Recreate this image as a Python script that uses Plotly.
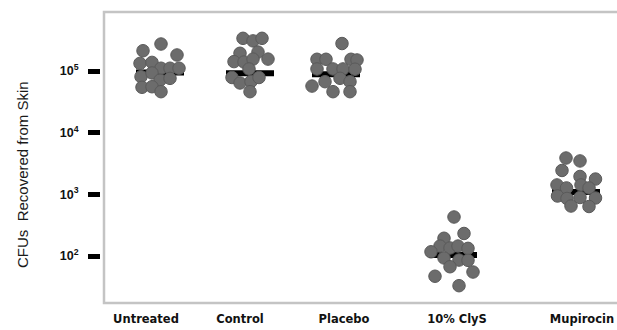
import plotly.graph_objects as go

# ---- data ----
categories = ["Untreated", "Control", "Placebo", "10% ClyS", "Mupirocin"]

untreated = [274000, 213000, 182000, 133000, 138000, 111000, 111000, 111000,
             81000, 93000, 71000, 76000, 54500, 55600, 46200]
control = [339000, 308000, 339000, 194000, 203000, 142000, 140000, 156000,
           156000, 108000, 78500, 64000, 67600, 78500, 46200]
placebo = [279000, 155000, 155000, 155000, 151000, 108000, 108000, 108000,
           107000, 57000, 67100, 76200, 67100, 46200, 46200]
clys = [429, 232, 194, 145, 135, 145, 133, 117, 93, 86, 85, 67, 55, 47, 33]
mupirocin = [3880, 3480, 2440, 1950, 1770, 1420, 1270, 1420, 1270,
             940, 857, 889, 873, 647, 635]

# horizontal scatter (jitter) of each dot, in category-width units
untreated_jit = [0.01, -0.17, 0.17, -0.20, -0.08, 0.01, 0.10, 0.19,
                 -0.19, -0.08, 0.00, 0.10, -0.18, -0.08, 0.01]
control_jit = [-0.07, 0.03, 0.12, -0.10, 0.08, -0.16, -0.06, 0.03,
               0.18, -0.01, -0.18, -0.10, 0.01, 0.09, 0.00]
placebo_jit = [0.06, -0.19, -0.10, 0.15, 0.21, -0.19, -0.03, 0.07,
               0.19, -0.24, -0.11, 0.04, 0.14, -0.03, 0.14]
clys_jit = [0.01, 0.11, -0.09, -0.13, -0.03, 0.05, 0.15, -0.22,
            -0.09, 0.06, 0.15, -0.03, 0.20, -0.18, 0.06]
mupirocin_jit = [-0.10, 0.04, -0.14, 0.04, 0.195, -0.19, -0.095, 0.05,
                 0.13, -0.185, -0.09, 0.04, 0.195, -0.05, 0.13]

medians = [95000, 92000, 89000, 104, 1090]

y_tick_values = [100, 1000, 10000, 100000]
y_tick_labels = ["10<sup>2</sup>", "10<sup>3</sup>", "10<sup>4</sup>", "10<sup>5</sup>"]

# ---- layout helpers (positions of groups on the x axis) ----
group_pos = [0.0, 0.90, 1.76, 2.93, 4.16]
label_pos = [-0.14, 0.80, 1.84, 2.97, 4.22]
bar_half = 0.24

series = [untreated, control, placebo, clys, mupirocin]
jitters = [untreated_jit, control_jit, placebo_jit, clys_jit, mupirocin_jit]

fig = go.Figure()

# median bars (drawn beneath the dots)
for pos, med in zip(group_pos, medians):
    fig.add_trace(go.Scatter(
        x=[pos - bar_half, pos + bar_half], y=[med, med],
        mode="lines", line=dict(color="#000000", width=6),
        hoverinfo="skip", showlegend=False))

for name, pos, vals, jit in zip(categories, group_pos, series, jitters):
    fig.add_trace(go.Scatter(
        x=[pos + j for j in jit], y=vals, name=name,
        mode="markers",
        marker=dict(size=12.5, color="#6c6c6c",
                    line=dict(color="#5a5a5a", width=1)),
        showlegend=False))

W, H = 617, 330
ml, mr, mt, mb = 101, 0, 12, 27
plot_w = W - ml - mr
plot_h = H - mt - mb
fx = 3.0 / plot_w

fig.update_layout(
    width=W, height=H,
    margin=dict(l=ml, r=mr, t=mt, b=mb, pad=0),
    paper_bgcolor="white", plot_bgcolor="white",
    xaxis=dict(
        range=[-0.59, -0.59 + plot_w / 100.0],
        showgrid=False, zeroline=False, showline=False,
        tickmode="array", tickvals=label_pos, ticktext=categories,
        ticks="", ticklabelstandoff=7, ticklabeloverflow="allow",
        tickfont=dict(family="DejaVu Sans", size=11.5, color="#111111",
                      weight="bold"),
    ),
    yaxis=dict(
        type="log", range=[1.238, 5.957],
        showgrid=False, zeroline=False, showline=False,
        tickmode="array", tickvals=y_tick_values, ticktext=y_tick_labels,
        ticks="outside", ticklen=12, tickwidth=4.5, tickcolor="#000000",
        ticklabelstandoff=7,
        tickfont=dict(family="Liberation Sans", size=12.5, color="#111111",
                      weight="bold"),
    ),
    shapes=[dict(
        type="path", xref="paper", yref="paper",
        path=f"M 1 1 L {fx} 1 L {fx} 0 L 1 0",
        line=dict(color="#c4c4c4", width=2.5),
        layer="below")],
    annotations=[dict(
        text="CFUs  Recovered from Skin", xref="paper", yref="paper",
        x=(22 - ml) / plot_w, y=(H - mb - 175) / plot_h,
        xanchor="center", yanchor="middle", textangle=-90,
        showarrow=False,
        font=dict(family="Liberation Sans", size=15, color="#1a1a1a"))],
)

fig.write_html("out.html")
